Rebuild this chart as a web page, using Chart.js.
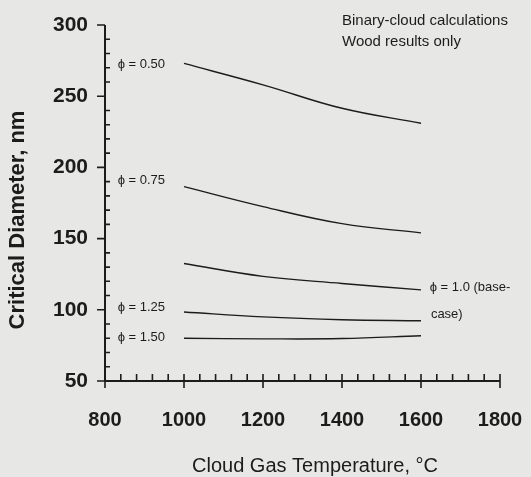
<!DOCTYPE html>
<html>
<head>
<meta charset="utf-8">
<script src="https://cdn.jsdelivr.net/npm/chart.js@4.4.0/dist/chart.umd.min.js"></script>
<style>
  html, body { margin: 0; padding: 0; background: #e7e7e5; }
  #wrap { width: 531px; height: 477px; }
</style>
</head>
<body>
<div id="wrap"><canvas id="chart" width="531" height="477"></canvas></div>
<script>
// temperatures (°C) and critical diameters (nm)
const temps = [1000, 1200, 1400, 1600];
const phi050 = [273, 258, 241.5, 231];
const phi075 = [186.5, 172.5, 160.5, 154];
const phi100 = [132.5, 123.5, 118.5, 114];
const phi125 = [98.5, 95, 93, 92.3];
const phi150 = [80, 79.6, 79.8, 81.8];

const xTicks = [800, 1000, 1200, 1400, 1600, 1800];
const yTicks = [50, 100, 150, 200, 250, 300];
const xMinorStep = 40;
const yMinorStep = 10;

const seriesNames = ['\u03d5 = 0.50', '\u03d5 = 0.75', '\u03d5 = 1.0 (base-case)', '\u03d5 = 1.25', '\u03d5 = 1.50'];
const seriesData = [phi050, phi075, phi100, phi125, phi150];

// curve labels: [text, x value, y value]
const curveLabels = [
  ['\u03d5 = 0.50', 832, 272],
  ['\u03d5 = 0.75', 832, 191],
  ['\u03d5 = 1.25', 832, 102],
  ['\u03d5 = 1.50', 832, 80.5],
  ['\u03d5 = 1.0 (base-', 1622, 115.5],
  ['case)', 1625, 96.5]
];

const ink = '#1c1c1c';
const sans = '"Liberation Sans", Arial, sans-serif';

const paper = {
  id: 'paper',
  beforeDraw(chart) {
    const ctx = chart.ctx;
    ctx.save();
    ctx.fillStyle = '#e7e7e5';
    ctx.fillRect(0, 0, chart.width, chart.height);
    ctx.restore();
  }
};

// axis lines, major and minor ticks, annotations, axis titles
const decor = {
  id: 'decor',
  afterDraw(chart) {
    const ctx = chart.ctx;
    const xs = chart.scales.x, ys = chart.scales.y;
    const x0 = xs.getPixelForValue(800), x1 = xs.getPixelForValue(1800);
    const y0 = ys.getPixelForValue(50), y1 = ys.getPixelForValue(300);
    ctx.save();
    ctx.strokeStyle = ink;
    ctx.lineWidth = 2;
    ctx.beginPath();
    ctx.moveTo(x0, y1); ctx.lineTo(x0, y0); ctx.lineTo(x1, y0);
    ctx.stroke();

    ctx.lineWidth = 1.6;
    ctx.beginPath();
    for (let v = 50; v <= 300; v += yMinorStep) {
      const y = ys.getPixelForValue(v);
      if (v % 50 === 0) { ctx.moveTo(x0 - 8, y); ctx.lineTo(x0, y); }
      else { ctx.moveTo(x0, y); ctx.lineTo(x0 + 5, y); }
    }
    for (let v = 800; v <= 1800; v += xMinorStep) {
      const x = xs.getPixelForValue(v);
      if (v % 200 === 0) { ctx.moveTo(x, y0 - 7); ctx.lineTo(x, y0 + 7); }
      else { ctx.moveTo(x, y0 - 7); ctx.lineTo(x, y0); }
    }
    ctx.stroke();

    ctx.fillStyle = ink;
    ctx.textBaseline = 'middle';
    ctx.textAlign = 'left';
    ctx.font = '13px ' + sans;
    curveLabels.forEach(([t, xv, yv]) => {
      ctx.fillText(t, xs.getPixelForValue(xv), ys.getPixelForValue(yv));
    });

    ctx.font = '15px ' + sans;
    ctx.fillText('Binary-cloud calculations', 342, 21);
    ctx.fillText('Wood results only', 342, 42);

    ctx.textAlign = 'center';
    ctx.font = '20px ' + sans;
    ctx.fillText('Cloud Gas Temperature, \u00b0C', 315, 466);

    ctx.translate(18, 220);
    ctx.rotate(-Math.PI / 2);
    ctx.font = 'bold 22px ' + sans;
    ctx.fillText('Critical Diameter, nm', 0, 0);
    ctx.restore();
  }
};

new Chart(document.getElementById('chart'), {
  type: 'line',
  data: {
    labels: temps,
    datasets: seriesData.map((d, i) => ({
      label: seriesNames[i],
      data: temps.map((t, j) => ({ x: t, y: d[j] })),
      borderColor: ink,
      borderWidth: 1.4,
      pointRadius: 0,
      fill: false,
      tension: 0.4
    }))
  },
  options: {
    responsive: false,
    animation: false,
    layout: { padding: { top: 25, right: 31, left: 0, bottom: 0 } },
    plugins: { legend: { display: false }, tooltip: { enabled: false } },
    scales: {
      x: {
        type: 'linear',
        min: 800, max: 1800,
        afterFit: s => { s.height = 96; s.paddingLeft = 0; s.paddingRight = 0; },
        afterBuildTicks: s => { s.ticks = xTicks.map(v => ({ value: v })); },
        grid: { display: false, drawTicks: false },
        border: { display: false },
        ticks: {
          color: ink, padding: 27, maxRotation: 0,
          font: { family: sans, size: 20, weight: 'bold' },
          callback: v => String(v)
        }
      },
      y: {
        type: 'linear',
        min: 50, max: 300,
        afterFit: s => { s.width = 105; s.paddingTop = 0; s.paddingBottom = 0; },
        afterBuildTicks: s => { s.ticks = yTicks.map(v => ({ value: v })); },
        grid: { display: false, drawTicks: false },
        border: { display: false },
        ticks: {
          color: ink, padding: 17,
          font: { family: sans, size: 21, weight: 'bold' },
          callback: v => String(v)
        }
      }
    }
  },
  plugins: [paper, decor]
});
</script>
</body>
</html>
